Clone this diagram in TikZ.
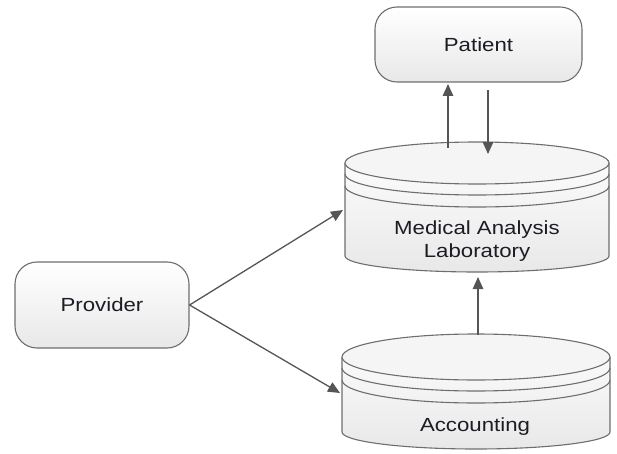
\documentclass[tikz,border=0pt]{standalone}
\usepackage{fontspec}
\setmainfont{Liberation Sans}[FakeStretch=1.17]
\usetikzlibrary{arrows.meta}
\definecolor{edgec}{HTML}{6E6E6E}
\definecolor{arrc}{HTML}{555555}
\definecolor{txtc}{HTML}{1C1C24}
\tikzset{
  rbox/.style={draw=edgec, line width=1.1pt, rounded corners=22pt, top color=white, bottom color=black!9,
    text=txtc, font=\fontsize{19}{23}\selectfont, inner sep=0pt},
  cylfill/.style={top color=white, bottom color=black!9},
  cylline/.style={draw=edgec, line width=1.1pt},
  cyltext/.style={text=txtc, font=\fontsize{19}{23}\selectfont, align=center, inner sep=0pt},
  conn/.style={draw=arrc, line width=1.3pt, -{Triangle[length=12pt,width=10.5pt]}},
}
\begin{document}
\begin{tikzpicture}[x=1pt,y=1pt]
\useasboundingbox (0,0) rectangle (617,453);
\begin{scope}
\clip (0,0) rectangle (617,453);
% Medical Analysis Laboratory cylinder
\path[cylfill] (345,290) -- (345,197) arc (180:360:132 and 16) -- (609,290) arc (0:180:132 and 21) -- cycle;
\draw[cylline] (345,290) -- (345,197) arc (180:360:132 and 16) -- (609,290);
\draw[cylline, fill=white!96!black] (477,290) ellipse (132 and 21);
\draw[cylline] (345,279) arc (180:360:132 and 21);
\draw[cylline] (345,267) arc (180:360:132 and 21);
% Accounting cylinder
\path[cylfill] (342,96) -- (342,21) arc (180:360:134 and 17) -- (610,96) arc (0:180:134 and 23) -- cycle;
\draw[cylline] (342,96) -- (342,21) arc (180:360:134 and 17) -- (610,96);
\draw[cylline, fill=white!96!black] (476,96) ellipse (134 and 23);
\draw[cylline] (342,85) arc (180:360:134 and 23);
\draw[cylline] (342,73) arc (180:360:134 and 23);
\end{scope}
% nodes
\node[rbox, minimum width=207pt, minimum height=75pt] (patient) at (478.5,408.5) {Patient};
\node[rbox, minimum width=174pt, minimum height=86pt] (provider) at (102,148) {Provider};
\node[cyltext] (med) at (477,212) {Medical Analysis\\Laboratory};
\node[cyltext] (acc) at (475,26) {Accounting};
% connector endpoints on the cylinders
\coordinate (medUp) at (448,305);
\coordinate (medDown) at (488,299);
\coordinate (medIn) at (343,243);
\coordinate (medBot) at (478,176);
\coordinate (accIn) at (340,60);
\coordinate (accTop) at (478,118);
\coordinate (patUp) at (448,369);
\coordinate (patDown) at (488,363);
% connectors
\draw[conn] (medUp) -- (patUp);
\draw[conn] (patDown) -- (medDown);
\draw[conn] (provider.east) -- (medIn);
\draw[conn] (provider.east) -- (accIn);
\draw[conn] (accTop) -- (medBot);
\end{tikzpicture}
\end{document}
